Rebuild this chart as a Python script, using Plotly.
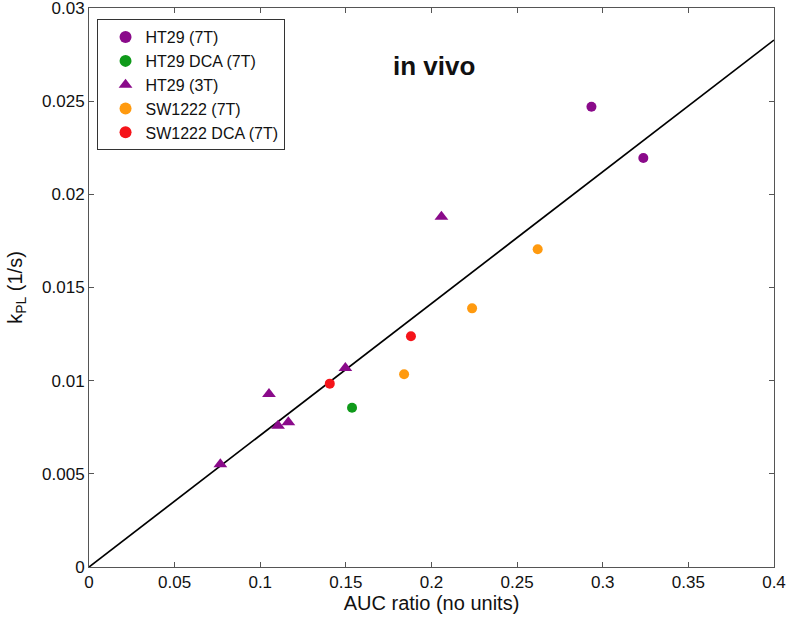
import plotly.graph_objects as go

# Data
ht29_7t_x = [0.2934, 0.3237]
ht29_7t_y = [0.02470, 0.02195]
ht29_dca_x = [0.1536]
ht29_dca_y = [0.00855]
ht29_3t_x = [0.0767, 0.1051, 0.1104, 0.1164, 0.1497, 0.2058]
ht29_3t_y = [0.00551, 0.00928, 0.00758, 0.00777, 0.01068, 0.01880]
sw_7t_x = [0.1840, 0.2237, 0.2620]
sw_7t_y = [0.01034, 0.01388, 0.01705]
sw_dca_x = [0.1406, 0.1880]
sw_dca_y = [0.00984, 0.01238]
fit_slope = 0.0707
fit_x = [0.0, 0.4]
fit_y = [fit_slope * v for v in fit_x]

x_ticks = [0, 0.05, 0.1, 0.15, 0.2, 0.25, 0.3, 0.35, 0.4]
x_tick_labels = ["0", "0.05", "0.1", "0.15", "0.2", "0.25", "0.3", "0.35", "0.4"]
y_ticks = [0, 0.005, 0.01, 0.015, 0.02, 0.025, 0.03]
y_tick_labels = ["0", "0.005", "0.01", "0.015", "0.02", "0.025", "0.03"]

PURPLE = "#8a0a8a"
GREEN = "#0f9a1a"
ORANGE = "#ff9a0f"
RED = "#f5141a"
FONT = "Liberation Sans, Arial, sans-serif"

fig = go.Figure()
fig.add_trace(go.Scatter(x=fit_x, y=fit_y, mode="lines", line=dict(color="black", width=1.7),
                         showlegend=False, hoverinfo="skip"))
fig.add_trace(go.Scatter(x=ht29_7t_x, y=ht29_7t_y, mode="markers", name="HT29 (7T)",
                         marker=dict(color=PURPLE, size=10, symbol="circle")))
fig.add_trace(go.Scatter(x=ht29_dca_x, y=ht29_dca_y, mode="markers", name="HT29 DCA (7T)",
                         marker=dict(color=GREEN, size=10, symbol="circle")))
fig.add_trace(go.Scatter(x=ht29_3t_x, y=ht29_3t_y, mode="markers", name="HT29 (3T)",
                         marker=dict(color=PURPLE, size=12, symbol="triangle-up")))
fig.add_trace(go.Scatter(x=sw_7t_x, y=sw_7t_y, mode="markers", name="SW1222 (7T)",
                         marker=dict(color=ORANGE, size=10, symbol="circle")))
fig.add_trace(go.Scatter(x=sw_dca_x, y=sw_dca_y, mode="markers", name="SW1222 DCA (7T)",
                         marker=dict(color=RED, size=10, symbol="circle")))

axis_common = dict(showgrid=False, zeroline=False, showline=True, linecolor="#555555",
                   linewidth=1, mirror="ticks", ticks="inside", ticklen=5, tickcolor="#555555",
                   automargin=False, ticklabeloverflow="allow",
                   tickfont=dict(family=FONT, size=17, color="#111111"))

fig.update_xaxes(range=[0, 0.4], tickvals=x_ticks, ticktext=x_tick_labels,
                 title=dict(text="AUC ratio (no units)", font=dict(family=FONT, size=20, color="#111111"),
                            standoff=2), **axis_common)
fig.update_yaxes(range=[0, 0.03], tickvals=y_ticks, ticktext=y_tick_labels,
                 title=dict(text="k<sub>PL</sub> (1/s)", font=dict(family=FONT, size=20, color="#111111"),
                            standoff=14), **axis_common)

fig.add_annotation(x=0.504, y=0.927, xref="paper", yref="paper", text="<b>in vivo</b>",
                   showarrow=False, font=dict(family=FONT, size=26, color="#111111"))

fig.update_layout(
    width=793, height=620,
    margin=dict(l=89, r=19, t=8, b=53),
    plot_bgcolor="white", paper_bgcolor="white",
    legend=dict(x=0.011, y=0.98, xanchor="left", yanchor="top",
                bgcolor="white", bordercolor="#333333", borderwidth=1,
                font=dict(family=FONT, size=16, color="#111111"),
                indentation=8,
                tracegroupgap=0, itemsizing="constant"),
)

fig.write_html("out.html", config={"displayModeBar": False},
               post_script="document.body.style.margin='0';document.body.style.overflow='hidden';")
